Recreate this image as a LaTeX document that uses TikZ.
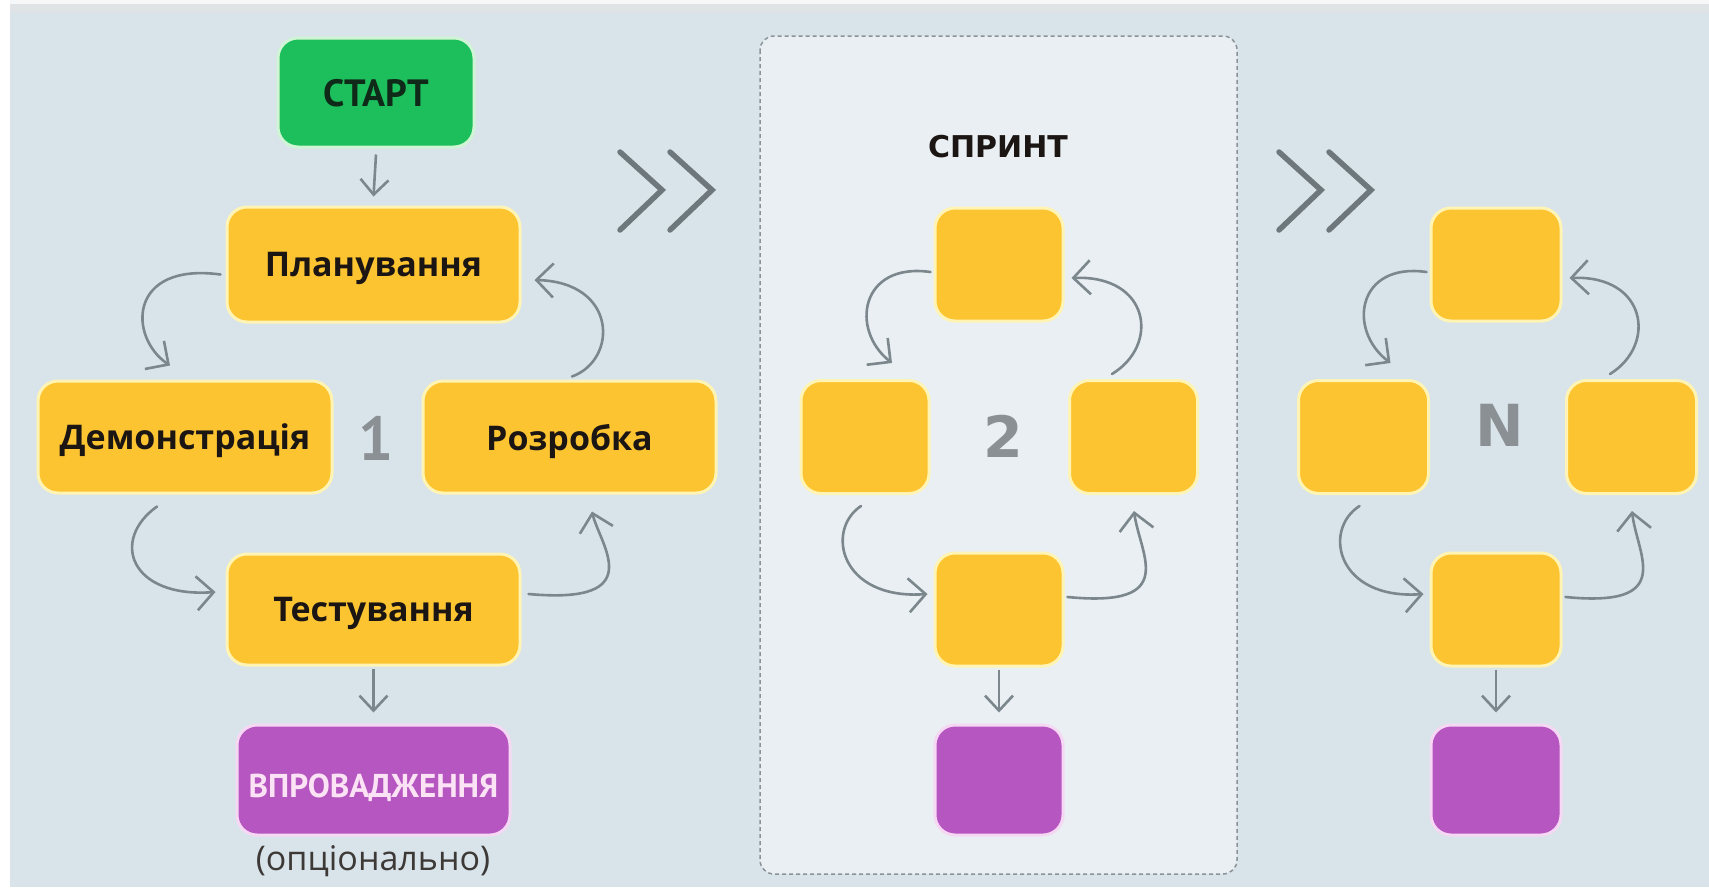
\documentclass[tikz,border=0pt]{standalone}
\usepackage{fontspec}
\setmainfont{PT Sans}
\newfontfamily\dvs{DejaVu Sans}
\newfontfamily\osans{Open Sans}
\usetikzlibrary{arrows.meta}
\definecolor{bg}{HTML}{D9E4EA}
\definecolor{topstrip}{HTML}{DFE3E6}
\definecolor{sprintfill}{HTML}{E9EFF2}
\definecolor{dashc}{HTML}{8B9398}
\definecolor{yel}{HTML}{FDC431}
\definecolor{yelb}{HTML}{FFF4B3}
\definecolor{grn}{HTML}{1DBE5C}
\definecolor{grnb}{HTML}{CFF5D5}
\definecolor{pur}{HTML}{B656C0}
\definecolor{purb}{HTML}{F6D8F4}
\definecolor{pinktext}{HTML}{FBE3F5}
\definecolor{arrowc}{HTML}{7B878D}
\definecolor{chev}{HTML}{6E777B}
\definecolor{numgray}{HTML}{8A9094}
\definecolor{labelc}{HTML}{1B1613}
\definecolor{starttext}{HTML}{0F2A18}
\tikzset{
  box/.style={rounded corners=20pt, line width=3pt, inner sep=0pt,
    font=\osans\bfseries\fontsize{34}{40}\selectfont, text=labelc, text depth=0pt},
  ybox/.style={box, fill=yel, draw=yelb},
  gbox/.style={box, fill=grn, draw=grnb, text=starttext, font=\bfseries\fontsize{38}{42}\selectfont},
  pbox/.style={box, fill=pur, draw=purb, text=pinktext, font=\bfseries\fontsize{33}{38}\selectfont},
  small/.style={minimum width=128pt, minimum height=113pt},
  conn/.style={draw=arrowc, line width=2.6pt, line cap=round,
    -{Straight Barb[length=17pt,width=34pt,line width=2.6pt]}},
  sconn/.style={draw=arrowc, line width=2.6pt,
    -{Straight Barb[length=15pt,width=28pt,line width=2.6pt]}},
  chevron/.style={draw=chev, line width=5.5pt, line cap=round, line join=miter},
  numlab/.style={text=numgray, font=\dvs\bfseries\fontsize{57}{62}\selectfont},
}
\begin{document}
\begin{tikzpicture}[x=1pt,y=1pt]
\useasboundingbox (0,0) rectangle (1709,-887);
% background
\fill[white] (0,0) rectangle (1709,-887);
\fill[bg] (10,0) rectangle (1709,-887);
\fill[white!70!topstrip] (10,0) rectangle (1709,-4);
\fill[topstrip] (10,-4) rectangle (1709,-13);

% sprint frame
\draw[fill=sprintfill, draw=dashc, line width=1.5pt, dash pattern=on 4pt off 3pt, rounded corners=14pt]
  (760,-36) rectangle (1237,-874);

% chevrons
\draw[chevron] (620,-152) -- (662,-190) -- (620,-230);
\draw[chevron] (670,-152) -- (712,-190) -- (670,-230);
\draw[chevron] (1279,-152) -- (1321,-190) -- (1279,-230);
\draw[chevron] (1329,-152) -- (1371,-190) -- (1329,-230);

% ---------- group 1 ----------
\node[gbox, minimum width=196pt, minimum height=109pt] (start) at (376,-92.5) {СТАРТ};
\node[ybox, minimum width=293pt, minimum height=115pt] (plan) at (373.5,-264.5) {Планування};
\node[ybox, minimum width=294pt, minimum height=112pt] (demo) at (185,-437) {Демонстрація};
\node[ybox, minimum width=293pt, minimum height=112pt] (dev) at (569.5,-437) {Розробка};
\node[ybox, minimum width=293pt, minimum height=111pt] (test) at (373.5,-609.5) {Тестування};
\node[pbox, minimum width=273pt, minimum height=110pt, text height=34pt] (impl) at (373.5,-780) {ВПРОВАДЖЕННЯ};
\node[text=labelc!85, font=\osans\fontsize{34}{38}\selectfont] (opt) at (373,-861) {(опціонально)};
\node[text=numgray, font=\bfseries\fontsize{62}{66}\selectfont] (one) at (376,-438) {1};

\draw[sconn] ([yshift=-6]start.south) -- ([yshift=9]plan.north);
\draw[sconn] ([yshift=-2]test.south) -- ([yshift=11]impl.north);

\draw[conn] ([shift={(-5,-10)}]plan.west) .. controls (128,-262) and (128,-337) .. ([shift={(-15,14)}]demo.north);
\draw[conn] ([shift={(2.5,3)}]dev.north) .. controls (618,-360) and (618,-282) .. ([shift={(13,-15.5)}]plan.east);
\draw[conn] ([shift={(-28,-12)}]demo.south) .. controls (110,-540) and (130,-598) .. ([shift={(-10,17.5)}]test.west);
\draw[conn] ([shift={(7,15.5)}]test.east) .. controls (650,-605) and (600,-545) .. ([shift={(22.5,-17)}]dev.south);

% ---------- group 2 ----------
\node[font=\dvs\bfseries\fontsize{30}{36}\selectfont, text=labelc] (sprint) at (998,-147) {СПРИНТ};
\node[ybox, small] (stop) at (999,-264.5) {};
\node[ybox, small] (sleft) at (865,-437) {};
\node[ybox, small] (sright) at (1133.5,-437) {};
\node[ybox, small] (sbot) at (999,-609.5) {};
\node[pbox, small, minimum height=110pt] (spur) at (999,-780) {};
\node[numlab] (two) at (1003,-436) {2};

\draw[sconn] ([yshift=-2]sbot.south) -- ([yshift=11]spur.north);
\draw[conn] ([shift={(-3,-7.5)}]stop.west) .. controls (860,-262) and (850,-330) .. ([shift={(27,16)}]sleft.north);
\draw[conn] ([shift={(-21.5,5)}]sright.north) .. controls (1160,-345) and (1150,-275) .. ([shift={(7,-13.5)}]stop.east);
\draw[conn] ([shift={(-4,-11)}]sleft.south) .. controls (825,-530) and (840,-600) .. ([shift={(-6,15.5)}]sbot.west);
\draw[conn] ([shift={(3,12.5)}]sbot.east) .. controls (1180,-608) and (1140,-555) .. ([shift={(0.5,-16)}]sright.south);

% ---------- group 3 ----------
\begin{scope}[xshift=497pt]
\node[ybox, small, minimum width=130pt] (ntop) at (999,-264.5) {};
\node[ybox, small, minimum width=130pt] (nleft) at (866.5,-437) {};
\node[ybox, small, minimum width=130pt] (nright) at (1134.5,-437) {};
\node[ybox, small, minimum width=130pt] (nbot) at (999,-609.5) {};
\node[pbox, small, minimum width=130pt, minimum height=110pt] (npur) at (999,-780) {};
\node[numlab, font=\dvs\bfseries\fontsize{58}{62}\selectfont] (nn) at (1003,-425) {N};

\draw[sconn] ([yshift=-2]nbot.south) -- ([yshift=11]npur.north);
\draw[conn] ([shift={(-3,-7.5)}]ntop.west) .. controls (860,-262) and (850,-330) .. ([shift={(27,16)}]nleft.north);
\draw[conn] ([shift={(-21.5,5)}]nright.north) .. controls (1160,-345) and (1150,-275) .. ([shift={(7,-13.5)}]ntop.east);
\draw[conn] ([shift={(-4,-11)}]nleft.south) .. controls (825,-530) and (840,-600) .. ([shift={(-6,15.5)}]nbot.west);
\draw[conn] ([shift={(3,12.5)}]nbot.east) .. controls (1180,-608) and (1140,-555) .. ([shift={(0.5,-16)}]nright.south);
\end{scope}
\end{tikzpicture}
\end{document}
